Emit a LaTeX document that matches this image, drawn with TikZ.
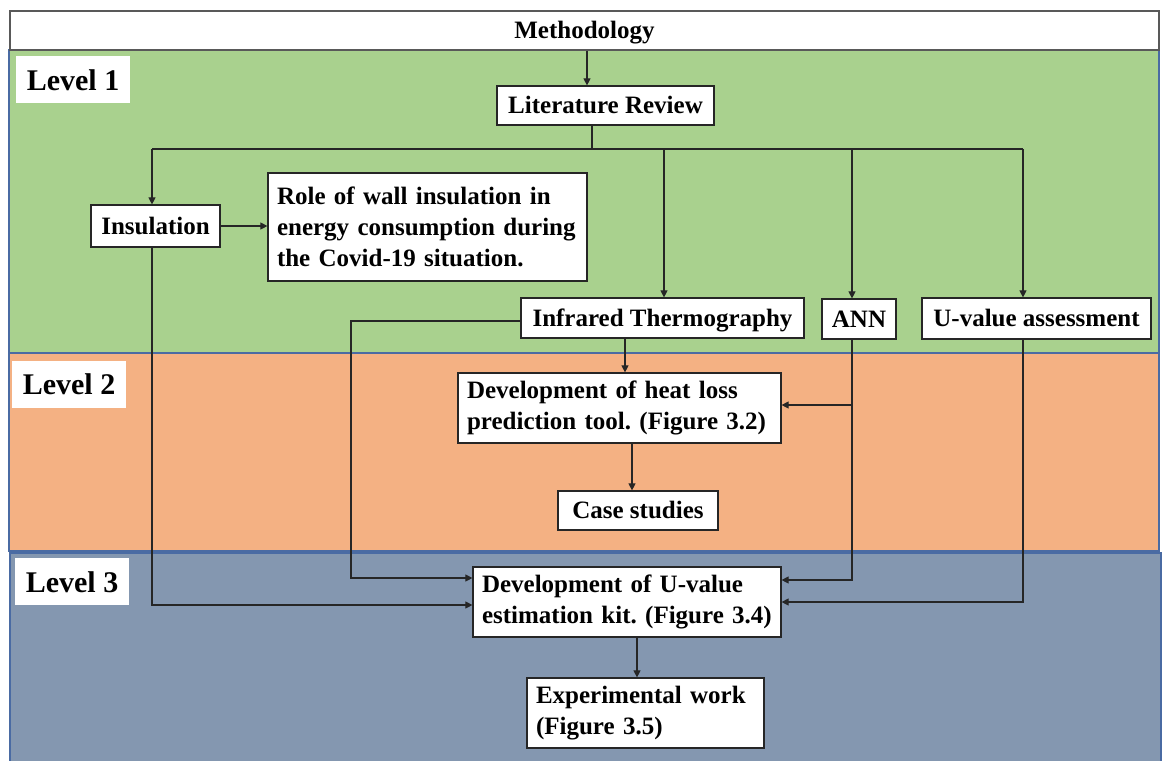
\documentclass[tikz,border=0pt]{standalone}
\usepackage{fontspec}
\setmainfont{Liberation Serif}
\usetikzlibrary{arrows.meta}
\definecolor{lvlone}{HTML}{A9D18E}
\definecolor{lvltwo}{HTML}{F4B183}
\definecolor{lvlthree}{HTML}{8497B0}
\definecolor{bandedge}{HTML}{4A6BA3}
\definecolor{wire}{HTML}{262626}
\frenchspacing
\begin{document}
\begin{tikzpicture}[x=1pt,y=-1pt,
  band/.style={draw=bandedge, line width=1.2pt},
  box/.style={draw=black!85, line width=1.2pt, fill=white, inner sep=0pt,
    font=\bfseries\fontsize{25}{31}\selectfont},
  one/.style={box, text height=17pt, text depth=1pt},
  mbox/.style={box, align=left, inner xsep=9pt, text width=#1-18pt},
  lvl/.style={fill=white, inner sep=0pt, minimum width=114, minimum height=47,
    text height=21pt, text depth=0pt, font=\bfseries\fontsize{30}{36}\selectfont},
  wire/.style={draw=wire, line width=1.1pt},
  arr/.style={wire, -{Triangle[length=7pt,width=7pt]}}
]
% canvas
\clip (0,0) rectangle (1163,761);
\fill[white] (0,0) rectangle (1163,761);

% level bands
\draw[band, fill=lvlone]   (9,50)   rectangle (1159,353);
\draw[band, fill=lvltwo]   (9,353)  rectangle (1159,551);
\draw[band, fill=lvlthree] (10,553) rectangle (1161,775);

% title strip
\node[one, draw=black!65, minimum width=1149, minimum height=39] (meth) at (584.5,30.5) {Methodology};

% level labels
\node[lvl] (l1) at (73,79.5) {Level 1};
\node[lvl] (l2) at (69,384) {Level 2};
\node[lvl] (l3) at (72,581.5) {Level 3};

% boxes
\node[one, minimum width=217, minimum height=39] (lit) at (605.5,105.5) {Literature Review};
\node[one, minimum width=129, minimum height=42] (ins) at (155.5,226) {Insulation};
\node[mbox=319, minimum height=108] (role) at (427.5,227)
  {Role of wall insulation in\\energy consumption during\\the Covid-19 situation.};
\node[one, minimum width=283, minimum height=40] (it) at (662.5,318) {Infrared Thermography};
\node[one, minimum width=74, minimum height=40] (ann) at (859,319) {ANN};
\node[one, minimum width=229, minimum height=41] (uva) at (1036.5,318.5) {U-value assessment};
\node[mbox=323, minimum height=70] (heat) at (619.5,408)
  {Development of heat loss\\prediction tool. (Figure 3.2)};
\node[one, minimum width=160, minimum height=39] (case) at (638,510.5) {Case studies};
\node[mbox=308, minimum height=70] (devu) at (627,602)
  {Development of U-value\\estimation kit. (Figure 3.4)};
\node[mbox=237, minimum height=70] (exp) at (645.5,713)
  {Experimental work\\(Figure 3.5)};

% distribution bus below the literature review
\coordinate (b0) at (592,149);
\coordinate (b1) at (152,149);
\coordinate (b2) at (664,149);
\coordinate (b3) at (852,149);
\coordinate (b4) at (1023,149);

\draw[arr] (587,0 |- meth.south) -- (587,0 |- lit.north);
\draw[wire] (b0 |- lit.south) -- (b0);
\draw[wire] (b1) -- (b4);
\draw[arr] (b1) -- (b1 |- ins.north);
\draw[arr] (b2) -- (b2 |- it.north);
\draw[arr] (b3) -- (b3 |- ann.north);
\draw[arr] (b4) -- (b4 |- uva.north);

% level 1 links
\draw[arr] (ins.east) -- (role.west |- ins.east);

% level 2 links
\draw[arr] (625,0 |- it.south) -- (625,0 |- heat.north);
\draw[arr] (632,0 |- heat.south) -- (632,0 |- case.north);
\draw[arr] (852,405) -- (heat.east |- 0,405);

% feeds into the U-value estimation kit
\draw[arr] (it.west |- 0,321) -- (351,321) -- (351,578) -- (devu.west |- 0,578);
\draw[arr] (152,0 |- ins.south) -- (152,605) -- (devu.west |- 0,605);
\draw[arr] (852,0 |- ann.south) -- (852,580) -- (devu.east |- 0,580);
\draw[arr] (1023,0 |- uva.south) -- (1023,602) -- (devu.east |- 0,602);
\draw[arr] (637,0 |- devu.south) -- (637,0 |- exp.north);
\end{tikzpicture}
\end{document}
